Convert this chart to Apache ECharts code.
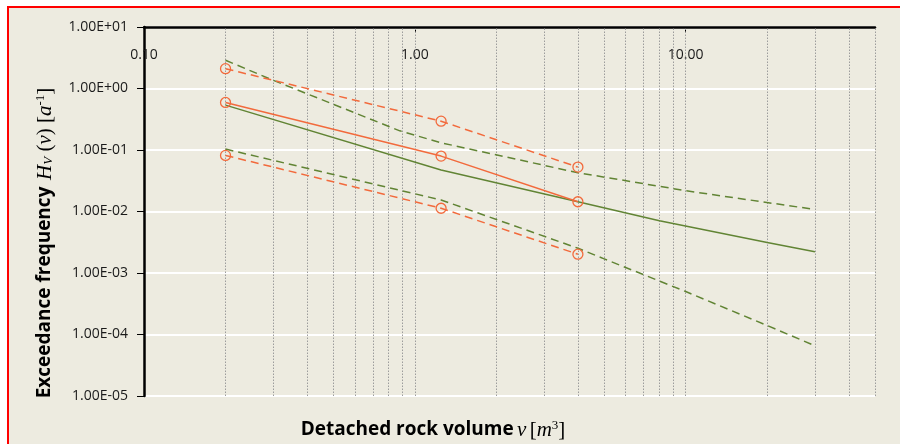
<!DOCTYPE html>
<html>
<head>
<meta charset="utf-8">
<script src="https://cdn.jsdelivr.net/npm/echarts@6/dist/echarts.min.js"></script>
<style>
  html, body { margin: 0; padding: 0; background: #ffffff; }
  #wrap { position: relative; width: 900px; height: 444px; overflow: hidden; background: #ffffff; }
  #panel { position: absolute; left: 7px; top: 6px; width: 1000px; height: 1000px;
           background: #EDEBE0; border-left: 2px solid #FF0000; border-top: 2px solid #FF0000; }
  #chart { position: absolute; left: 0; top: 0; width: 900px; height: 444px; }
</style>
</head>
<body>
<div id="wrap">
  <div id="panel"></div>
  <div id="chart"></div>
</div>
<script>
// Observed volumes and exceedance frequencies (orange: estimates with bounds)
const obsVolume = [0.2, 1.25, 4.0];
const obsMean  = [0.593, 0.0796, 0.0144];
const obsUpper = [2.1, 0.294, 0.0527];
const obsLower = [0.0817, 0.0113, 0.00202];

// Fitted model curve with upper / lower bounds (green)
const fitVolume = [0.2, 1.25, 4.0, 8.0, 20.0, 30.0];
const fitMean   = [0.536, 0.0472, 0.0144, 0.0071, 0.00312, 0.00222];
const upVolume  = [0.2, 0.3, 0.88, 1.25, 4.0, 10.0, 30.0];
const fitUpper  = [2.88, 1.36, 0.205, 0.131, 0.0427, 0.0218, 0.0108];
const loVolume  = [0.2, 1.25, 4.0, 5.0, 10.0, 20.0, 30.0];
const fitLower  = [0.1035, 0.0154, 0.00253, 0.0017, 0.000499, 0.00014, 0.0000656];

// Vertical (minor) grid positions on the volume axis
const gridVolumes = [0.2, 0.3, 0.4, 0.5, 0.6, 0.7, 0.8, 0.9, 1, 2, 3, 4, 5, 6, 7, 8, 9, 10, 20, 30, 40, 50];
const xTickValues = [0.1, 1, 10];

const ORANGE = '#F26A3C';
const GREEN = '#618434';
const DASH = [8, 5];
const labelFont = { fontFamily: 'Open Sans', fontSize: 14, color: '#1a1a1a' };

const pairs = (xs, ys) => xs.map((x, i) => [x, ys[i]]);

function sciLabel(v) {
  const e = Math.round(Math.log10(v));
  const s = e < 0 ? '-' : '+';
  const a = Math.abs(e);
  return '1.00E' + s + (a < 10 ? '0' + a : a);
}

const chart = echarts.init(document.getElementById('chart'), null, { renderer: 'canvas' });

const obsSeries = (name, ys, dashed) => ({
  name, type: 'line', data: pairs(obsVolume, ys),
  symbol: 'circle', symbolSize: 10,
  itemStyle: { color: 'rgba(0,0,0,0)', borderColor: ORANGE, borderWidth: 1.3 },
  lineStyle: { color: ORANGE, width: 1.5, type: dashed ? DASH : 'solid' },
  z: 4, animation: false
});
const fitSeries = (name, xs, ys, dashed) => ({
  name, type: 'line', data: pairs(xs, ys), showSymbol: false, symbol: 'none',
  lineStyle: { color: GREEN, width: 1.5, type: dashed ? DASH : 'solid' },
  z: 3, animation: false
});

const rich = {
  b: { fontFamily: 'Open Sans', fontWeight: 'bold', fontSize: 19, color: '#111' },
  i: { fontFamily: 'Liberation Serif', fontStyle: 'italic', fontSize: 21, color: '#111' },
  s: { fontFamily: 'Liberation Serif', fontSize: 21, color: '#111' },
  sub: { fontFamily: 'Liberation Serif', fontStyle: 'italic', fontSize: 13, color: '#111', verticalAlign: 'bottom' },
  sup: { fontFamily: 'Liberation Serif', fontSize: 13, color: '#111', verticalAlign: 'top' }
};

chart.setOption({
  animation: false,
  backgroundColor: 'transparent',
  grid: { left: 144, right: 25, top: 27, bottom: 48 },
  xAxis: {
    type: 'log', logBase: 10, min: 0.1, max: 50, position: 'top',
    axisLine: { show: true, lineStyle: { color: '#000', width: 2.5 } },
    axisTick: { show: true, inside: true, length: 5, customValues: xTickValues, lineStyle: { color: '#000', width: 1 } },
    axisLabel: Object.assign({
      inside: true, margin: 21, customValues: xTickValues,
      formatter: v => (Math.abs(Math.log10(v) - Math.round(Math.log10(v))) < 1e-6 ? v.toFixed(2) : '')
    }, labelFont),
    splitLine: { show: false },
    minorTick: { show: false }
  },
  yAxis: {
    type: 'log', logBase: 10, min: 1e-5, max: 10,
    axisLine: { show: true, lineStyle: { color: '#000', width: 2.5 } },
    axisTick: { show: true, inside: false, length: 7, lineStyle: { color: '#000', width: 1 } },
    axisLabel: Object.assign({ margin: 16, formatter: sciLabel }, labelFont),
    splitLine: { show: true, lineStyle: { color: '#ffffff', width: 2 } }
  },
  graphic: [
    {
      type: 'text', x: 45, y: 243, rotation: Math.PI / 2,
      style: {
        text: '{b|Exceedance frequency}  {i|H}{sub|V}{s| (}{i|v}{s|) [}{i|a}{sup|-1}{s|]}',
        rich, align: 'center', verticalAlign: 'middle'
      }
    },
    {
      type: 'text', x: 433, y: 430,
      style: {
        text: '{b|Detached rock volume} {i|v} {s|[}{i|m}{sup|3}{s|]}',
        rich, align: 'center', verticalAlign: 'middle'
      }
    }
  ],
  series: [
    Object.assign(obsSeries('Observed', obsMean, false), {
      markLine: {
        silent: true, symbol: ['none', 'none'], label: { show: false },
        lineStyle: { color: '#9c9c9c', width: 1, type: [1.5, 1.5] },
        data: gridVolumes.map(v => ({ xAxis: v })),
        z: 1, animation: false
      }
    }),
    obsSeries('Observed upper', obsUpper, true),
    obsSeries('Observed lower', obsLower, true),
    fitSeries('Model', fitVolume, fitMean, false),
    fitSeries('Model upper', upVolume, fitUpper, true),
    fitSeries('Model lower', loVolume, fitLower, true)
  ]
});
</script>
</body>
</html>
